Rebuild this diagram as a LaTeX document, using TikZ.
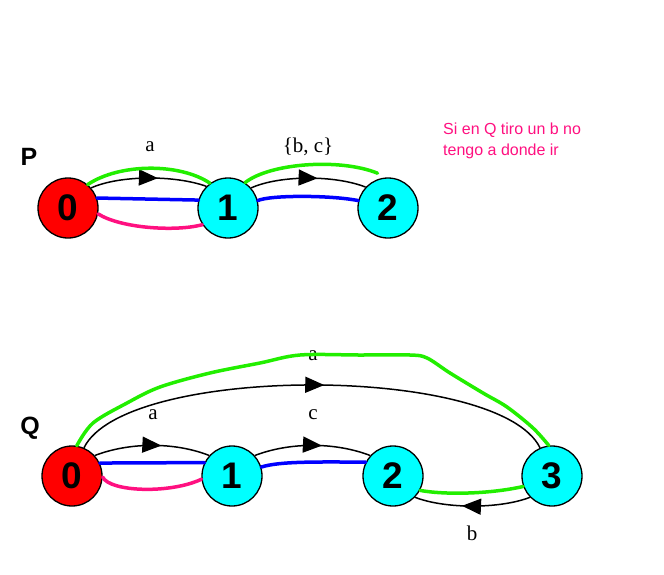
\documentclass[tikz,border=0pt]{standalone}
\usepackage{fontspec}
\setmainfont{Liberation Serif}
\setsansfont{Liberation Sans}
\usetikzlibrary{arrows.meta,decorations.markings}

\definecolor{stRed}{RGB}{255,0,0}
\definecolor{stCyan}{RGB}{0,255,255}
\definecolor{hlGreen}{RGB}{34,238,0}
\definecolor{hlBlue}{RGB}{0,0,255}
\definecolor{hlPink}{RGB}{255,16,128}

\tikzset{
  statenode/.style={circle, draw=black, line width=1.3pt, minimum size=60pt,
    inner sep=0pt, font=\sffamily\bfseries\fontsize{37}{37}\selectfont},
  initstate/.style={statenode, fill=stRed},
  plainstate/.style={statenode, fill=stCyan},
  trans/.style={line width=1.5pt, postaction={decorate},
    decoration={markings, mark=at position #1 with {\arrow{Triangle[length=19pt,width=16pt]}}}},
  trans/.default=0.58,
  elabel/.style={inner sep=0pt, font=\fontsize{21}{21}\selectfont},
  autlabel/.style={inner sep=0pt, font=\sffamily\bfseries\fontsize{25}{25}\selectfont},
  notetext/.style={inner sep=0pt, anchor=base west, text=hlPink,
    font=\sffamily\fontsize{16}{20}\selectfont},
  hlgreen/.style={draw=hlGreen, line width=3.5pt, line cap=round, line join=round},
  hlblue/.style={draw=hlBlue, line width=3.5pt, line cap=round},
  hlpink/.style={draw=hlPink, line width=3.5pt, line cap=round},
}

\begin{document}
\begin{tikzpicture}[x=1pt, y=-1pt]
  \useasboundingbox (0,0) rectangle (664,574);

  % ---------- automaton P ----------
  \node[autlabel] (plabel) at (29,157) {P};
  \node[initstate]  (p0) at (68,208)  {0};
  \node[plainstate] (p1) at (228,208) {1};
  \node[plainstate] (p2) at (388,208) {2};

  \draw[trans] (p0.41) .. controls (120,175) and (175,175) .. (p1.135);
  \draw[trans] (p1.41) .. controls (280,175) and (335,175) .. (p2.137);
  \node[elabel] (pa)  at (150,147) {a};
  \node[elabel] (pbc) at (308,147) {\{b, c\}};

  % highlighted paths in P
  \draw[hlgreen] (p0.50) .. controls (120,163) and (180,163) .. (p1.126);
  \draw[hlgreen] (p1.56) .. controls (270,163) and (340,158) .. ([yshift=6pt]p2.110);
  \draw[hlblue] (p0.19) -- (p1.165);
  \draw[hlblue] (p1.14) .. controls (270,195) and (330,195) .. (p2.166);
  \draw[hlpink] (p0.-11) .. controls (120,228) and (175,232) .. (p1.213);

  % note
  \node[notetext] (note1) at (443,134) {Si en Q tiro un b no};
  \node[notetext] (note2) at (443,155) {tengo a donde ir};

  % ---------- automaton Q ----------
  \node[autlabel] (qlabel) at (30,428) {Q};
  \node[initstate]  (q0) at (72,476)  {0};
  \node[plainstate] (q1) at (232,476) {1};
  \node[plainstate] (q2) at (393,476) {2};
  \node[plainstate] (q3) at (552,476) {3};

  \draw[trans] (q0.42) .. controls (130,442) and (175,442) .. (q1.138);
  \draw[trans] (q1.42) .. controls (290,442) and (335,442) .. (q2.138);
  \draw[trans=0.525] (q0.67) .. controls (125,364) and (499,364) .. (q3.113);
  \draw[trans=0.59] (q3.224) .. controls (500,509) and (445,509) .. (q2.-44);

  \node[elabel] (qa)  at (153,415) {a};
  \node[elabel] (qc)  at (313,415) {c};
  \node[elabel] (qa2) at (313,356) {a};
  \node[elabel] (qb)  at (472,533) {b};

  % highlighted paths in Q
  \draw[hlgreen] plot[smooth, tension=0.55] coordinates {
    (q0.81) (93,423) (127,403) (160,387) (210,373) (260,363) (300,355)
    (360,355) (410,355) (427,358) (450,373) (483,393) (507,407) (533,428) (q3.96)};
  \draw[hlgreen] (q2.-28) .. controls (445,495) and (490,494) .. (q3.200);
  \draw[hlblue] (q0.25) -- (q1.154);
  \draw[hlblue] (q1.17) .. controls (280,461) and (320,462) .. (q2.153);
  \draw[hlpink] (q0.-2) .. controls (110,492) and (170,494) .. (q1.186);
\end{tikzpicture}
\end{document}
